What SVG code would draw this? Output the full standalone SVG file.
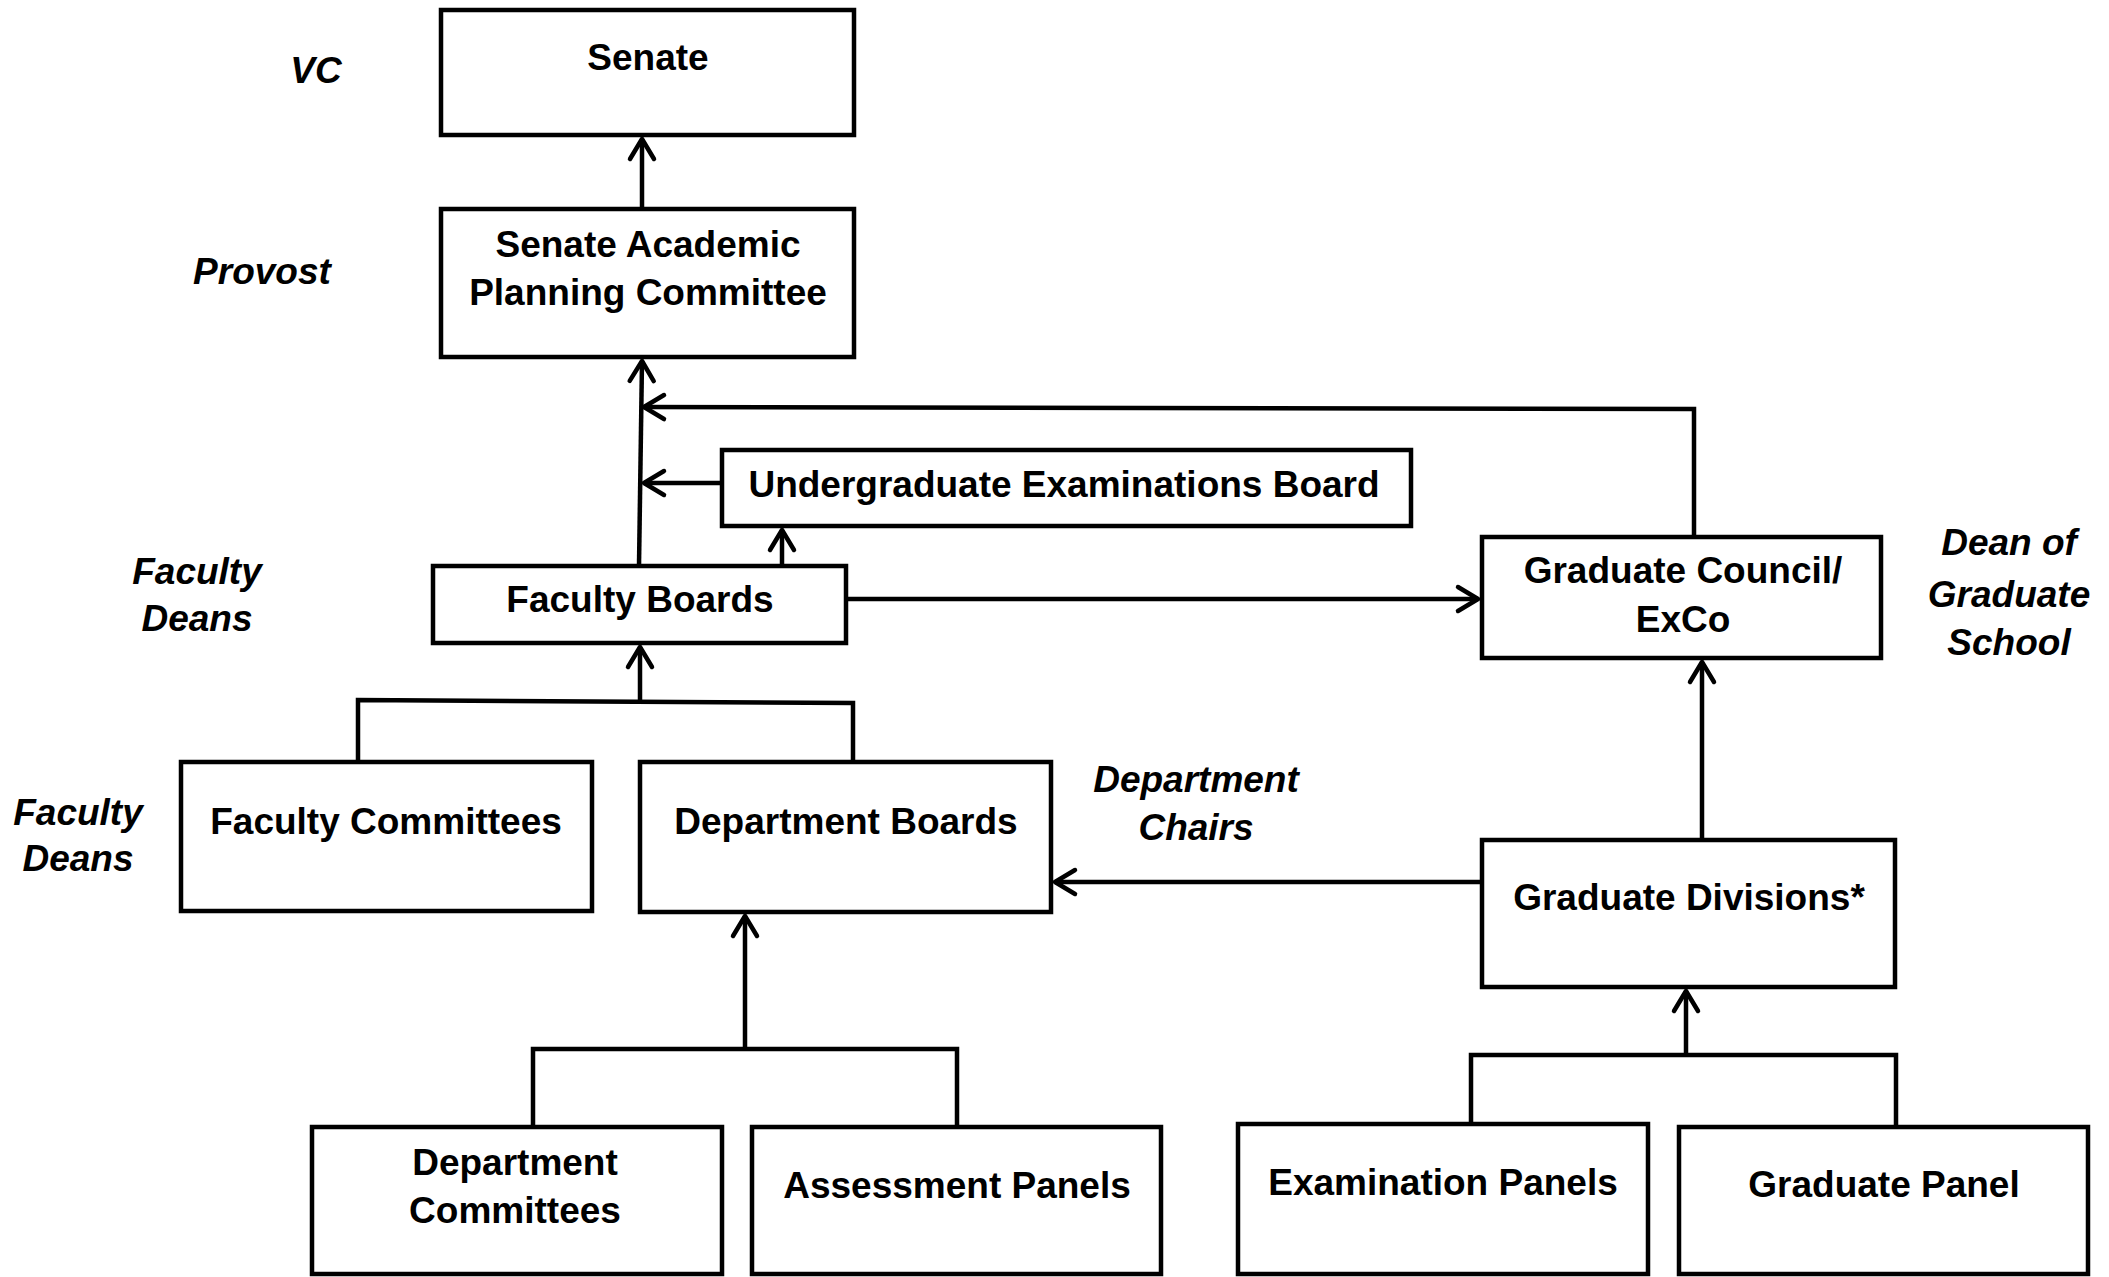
<svg xmlns="http://www.w3.org/2000/svg" width="2109" height="1277" viewBox="0 0 2109 1277">
<style>
.box{fill:#fff;stroke:#000;stroke-width:4.5}
.t{font-family:"Liberation Sans",Arial,sans-serif;font-weight:bold;font-size:37px;text-anchor:middle;fill:#000}
.lbl{font-family:"Liberation Sans",Arial,sans-serif;font-weight:bold;font-style:italic;font-size:37px;text-anchor:middle;fill:#000}
.ln{fill:none;stroke:#000;stroke-width:4.5}
.ar{fill:none;stroke:#000;stroke-width:4.5;marker-end:url(#arr)}
</style>
<defs>
<marker id="arr" markerUnits="userSpaceOnUse" markerWidth="40" markerHeight="40" viewBox="-30 -20 40 40" refX="0" refY="0" orient="auto" overflow="visible">
<path d="M-20,-12 L0,0 L-20,12" fill="none" stroke="#000" stroke-width="4.5" stroke-linecap="round" stroke-linejoin="round"/>
</marker>
</defs>
<rect width="2109" height="1277" fill="#fff"/>
<g id="connectors">
<line class="ar" x1="642" y1="209" x2="642" y2="139"/>
<line class="ar" x1="639" y1="566" x2="642" y2="361"/>
<polyline class="ar" points="1694,537 1694,409 644,407"/>
<line class="ar" x1="722" y1="483" x2="644" y2="483"/>
<line class="ar" x1="782" y1="566" x2="782" y2="530"/>
<line class="ar" x1="846" y1="599" x2="1478" y2="599"/>
<line class="ar" x1="640" y1="701" x2="640" y2="647"/>
<path class="ln" d="M358,762 V700 L853,703 V762"/>
<line class="ar" x1="1702" y1="840" x2="1702" y2="662"/>
<line class="ar" x1="1482" y1="882" x2="1055" y2="882"/>
<line class="ar" x1="745" y1="1049" x2="745" y2="916"/>
<path class="ln" d="M533,1127 V1049 H957 V1127"/>
<line class="ar" x1="1686" y1="1055" x2="1686" y2="991"/>
<path class="ln" d="M1471,1124 V1055 H1896 V1127"/>
</g>
<g id="senate"><rect class="box" x="441" y="10" width="413" height="125"/><text class="t" x="648" y="70">Senate</text></g>
<g id="sapc"><rect class="box" x="441" y="209" width="413" height="148"/><text class="t" x="648" y="257">Senate Academic</text><text class="t" x="648" y="305">Planning Committee</text></g>
<g id="ueb"><rect class="box" x="722" y="450" width="689" height="76"/><text class="t" x="1064" y="497">Undergraduate Examinations Board</text></g>
<g id="faculty-boards"><rect class="box" x="433" y="566" width="413" height="77"/><text class="t" x="640" y="612">Faculty Boards</text></g>
<g id="graduate-council"><rect class="box" x="1482" y="537" width="399" height="121"/><text class="t" x="1683" y="583">Graduate Council/</text><text class="t" x="1683" y="632">ExCo</text></g>
<g id="faculty-committees"><rect class="box" x="181" y="762" width="411" height="149"/><text class="t" x="386" y="834">Faculty Committees</text></g>
<g id="department-boards"><rect class="box" x="640" y="762" width="411" height="150"/><text class="t" x="846" y="834">Department Boards</text></g>
<g id="graduate-divisions"><rect class="box" x="1482" y="840" width="413" height="147"/><text class="t" x="1689" y="910">Graduate Divisions*</text></g>
<g id="department-committees"><rect class="box" x="312" y="1127" width="410" height="147"/><text class="t" x="515" y="1175">Department</text><text class="t" x="515" y="1223">Committees</text></g>
<g id="assessment-panels"><rect class="box" x="752" y="1127" width="409" height="147"/><text class="t" x="957" y="1198">Assessment Panels</text></g>
<g id="examination-panels"><rect class="box" x="1238" y="1124" width="410" height="150"/><text class="t" x="1443" y="1195">Examination Panels</text></g>
<g id="graduate-panel"><rect class="box" x="1679" y="1127" width="409" height="147"/><text class="t" x="1884" y="1197">Graduate Panel</text></g>
<g id="labels">
<text class="lbl" x="316" y="83">VC</text>
<text class="lbl" x="262" y="284">Provost</text>
<text class="lbl" x="197" y="584">Faculty</text>
<text class="lbl" x="197" y="631">Deans</text>
<text class="lbl" x="78" y="825">Faculty</text>
<text class="lbl" x="78" y="871">Deans</text>
<text class="lbl" x="1196" y="792">Department</text>
<text class="lbl" x="1196" y="840">Chairs</text>
<text class="lbl" x="2009" y="555">Dean of</text>
<text class="lbl" x="2009" y="607">Graduate</text>
<text class="lbl" x="2009" y="655">School</text>
</g>
</svg>
